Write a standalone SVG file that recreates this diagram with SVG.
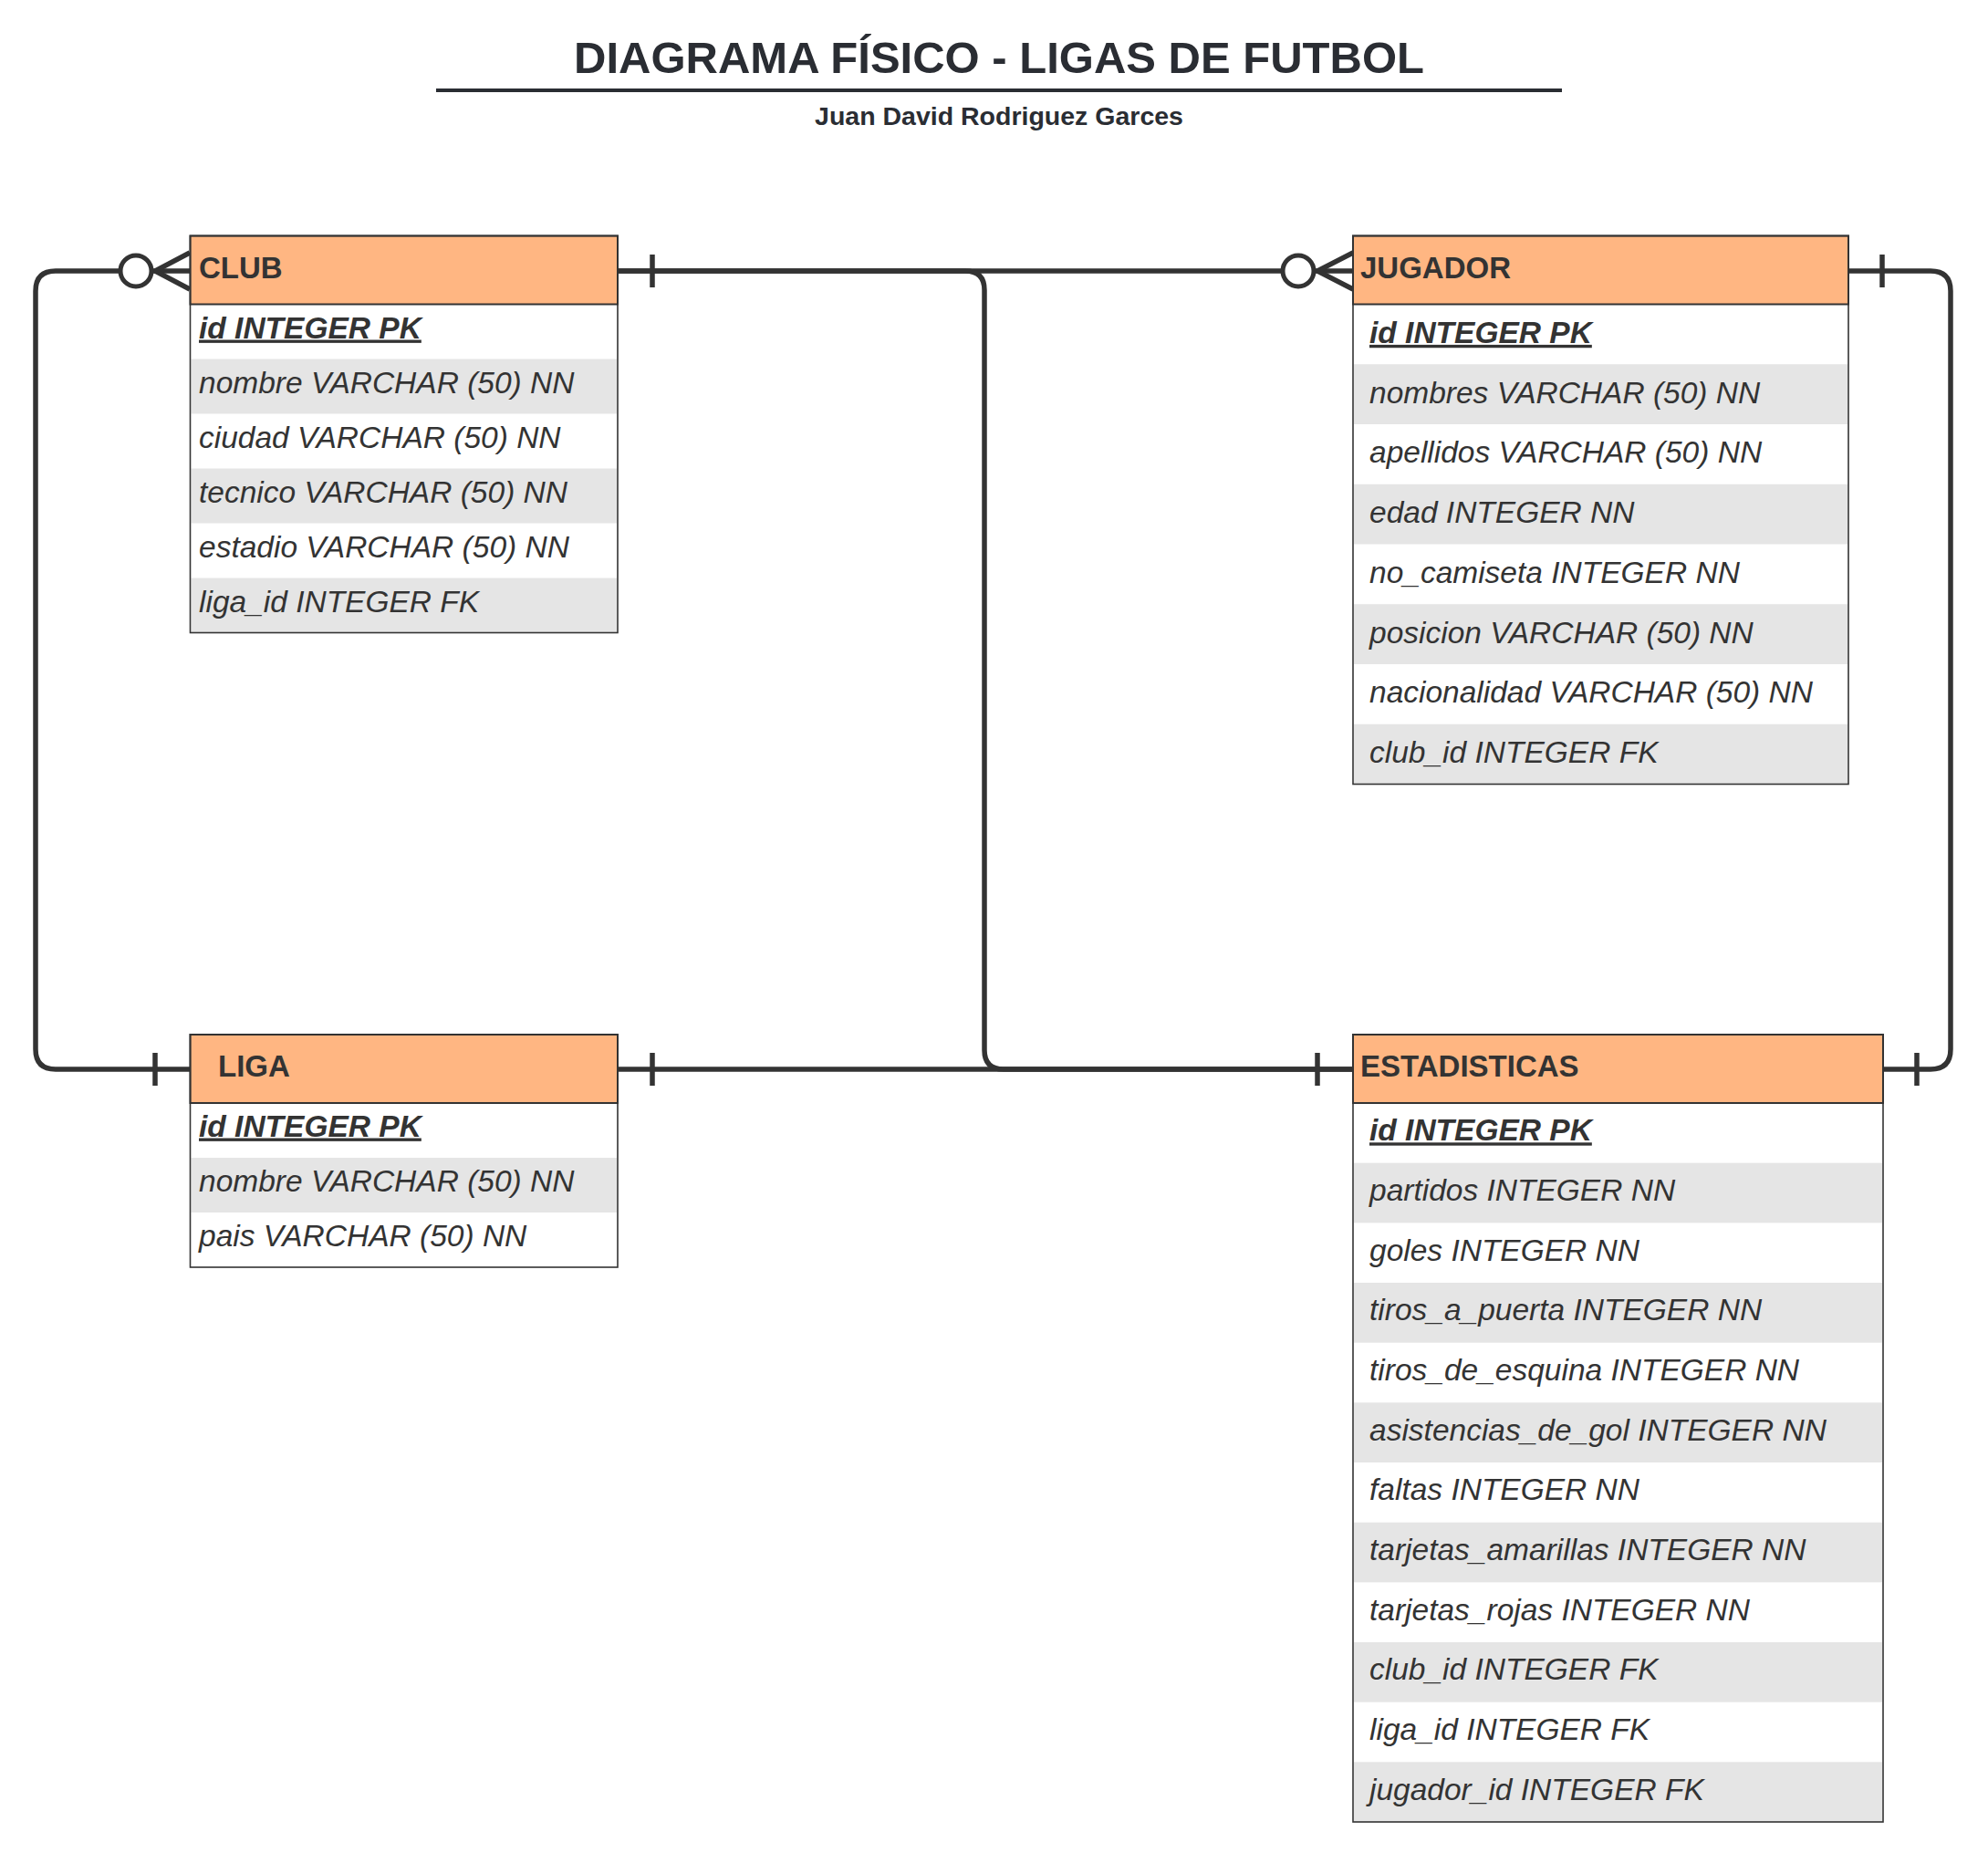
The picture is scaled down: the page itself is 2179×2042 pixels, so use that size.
<svg xmlns="http://www.w3.org/2000/svg" width="2179" height="2042" viewBox="0 0 2179 2042">
<defs>
<style>
.hdr{fill:#FFB682;stroke:#333;stroke-width:2}
.body{fill:#fff;stroke:none}
.frame{fill:none;stroke:#333;stroke-width:1.6}
.alt{fill:#E5E5E5}
.ht{font-family:"Liberation Sans",Arial,sans-serif;font-weight:bold;font-size:33px;fill:#333}
.ft{font-family:"Liberation Sans",Arial,sans-serif;font-style:italic;font-size:33.5px;fill:#333}
.pk{font-weight:bold;text-decoration:underline}
.cn{fill:none;stroke:#333;stroke-width:5.5}
.end{fill:#fff;stroke:#333;stroke-width:5}
.ttl{font-family:"Liberation Sans",Arial,sans-serif;font-weight:bold;fill:#2A2D33;text-anchor:middle}
</style>
</defs>
<rect width="2179" height="2042" fill="#fff"/>
<g id="title">
<text class="ttl" x="1095" y="80" font-size="49">DIAGRAMA FÍSICO - LIGAS DE FUTBOL</text>
<rect x="478" y="97" width="1234" height="4" fill="#2A2D33"/>
<text class="ttl" x="1095" y="137" font-size="28.5">Juan David Rodriguez Garces</text>
</g>
<g id="connectors">
<path class="cn" d="M208 297 H61 Q39 297 39 319 V1150 Q39 1172 61 1172 H208"/>
<path class="cn" d="M208 277 L170 297 L208 317"/>
<path class="cn" d="M170 1154 V1190"/>
<circle class="end" cx="149" cy="297" r="17"/>
<path class="cn" d="M677 297 H1483"/>
<path class="cn" d="M715 279 V315"/>
<path class="cn" d="M1483 277 L1444 297 L1483 317"/>
<circle class="end" cx="1423" cy="297" r="17"/>
<path class="cn" d="M677 297 H1058 Q1079 297 1079 318 V1151 Q1079 1172 1100 1172 H1483"/>
<path class="cn" d="M677 1172 H1483"/>
<path class="cn" d="M715 1154 V1190"/>
<path class="cn" d="M1444 1154 V1190"/>
<path class="cn" d="M2026 297 H2116 Q2138 297 2138 319 V1150 Q2138 1172 2116 1172 H2064"/>
<path class="cn" d="M2063 279 V315"/>
<path class="cn" d="M2101 1154 V1190"/>
</g>
<g id="club">
<rect class="body" x="208.5" y="258.5" width="468.5" height="435"/>
<rect class="alt" x="209.5" y="393.5" width="466.5" height="60"/>
<rect class="alt" x="209.5" y="513.5" width="466.5" height="60"/>
<rect class="alt" x="209.5" y="633.5" width="466.5" height="60"/>
<rect class="hdr" x="208.5" y="258.5" width="468.5" height="75"/>
<rect class="frame" x="208.5" y="258.5" width="468.5" height="435"/>
<text class="ht" x="218" y="304.5">CLUB</text>
<text class="ft pk" x="218" y="370.5">id INTEGER PK</text>
<text class="ft" x="218" y="430.5">nombre VARCHAR (50) NN</text>
<text class="ft" x="218" y="490.5">ciudad VARCHAR (50) NN</text>
<text class="ft" x="218" y="550.5">tecnico VARCHAR (50) NN</text>
<text class="ft" x="218" y="610.5">estadio VARCHAR (50) NN</text>
<text class="ft" x="218" y="670.5">liga_id INTEGER FK</text>
</g>
<g id="jugador">
<rect class="body" x="1483" y="258.5" width="543" height="601"/>
<rect class="alt" x="1484" y="399.25" width="541" height="65.75"/>
<rect class="alt" x="1484" y="530.75" width="541" height="65.75"/>
<rect class="alt" x="1484" y="662.25" width="541" height="65.75"/>
<rect class="alt" x="1484" y="793.75" width="541" height="65.75"/>
<rect class="hdr" x="1483" y="258.5" width="543" height="75"/>
<rect class="frame" x="1483" y="258.5" width="543" height="601"/>
<text class="ht" x="1491" y="304.5">JUGADOR</text>
<text class="ft pk" x="1501" y="375.9">id INTEGER PK</text>
<text class="ft" x="1501" y="441.6">nombres VARCHAR (50) NN</text>
<text class="ft" x="1501" y="507.4">apellidos VARCHAR (50) NN</text>
<text class="ft" x="1501" y="573.1">edad INTEGER NN</text>
<text class="ft" x="1501" y="638.9">no_camiseta INTEGER NN</text>
<text class="ft" x="1501" y="704.6">posicion VARCHAR (50) NN</text>
<text class="ft" x="1501" y="770.4">nacionalidad VARCHAR (50) NN</text>
<text class="ft" x="1501" y="836.1">club_id INTEGER FK</text>
</g>
<g id="liga">
<rect class="body" x="208.5" y="1134" width="468.5" height="255"/>
<rect class="alt" x="209.5" y="1269" width="466.5" height="60"/>
<rect class="hdr" x="208.5" y="1134" width="468.5" height="75"/>
<rect class="frame" x="208.5" y="1134" width="468.5" height="255"/>
<text class="ht" x="239" y="1180">LIGA</text>
<text class="ft pk" x="218" y="1245.5">id INTEGER PK</text>
<text class="ft" x="218" y="1305.5">nombre VARCHAR (50) NN</text>
<text class="ft" x="218" y="1365.5">pais VARCHAR (50) NN</text>
</g>
<g id="estadisticas">
<rect class="body" x="1483" y="1134" width="581" height="863"/>
<rect class="alt" x="1484" y="1274.67" width="579" height="65.67"/>
<rect class="alt" x="1484" y="1406" width="579" height="65.67"/>
<rect class="alt" x="1484" y="1537.33" width="579" height="65.67"/>
<rect class="alt" x="1484" y="1668.67" width="579" height="65.67"/>
<rect class="alt" x="1484" y="1800" width="579" height="65.67"/>
<rect class="alt" x="1484" y="1931.33" width="579" height="65.67"/>
<rect class="hdr" x="1483" y="1134" width="581" height="75"/>
<rect class="frame" x="1483" y="1134" width="581" height="863"/>
<text class="ht" x="1491" y="1180">ESTADISTICAS</text>
<text class="ft pk" x="1501" y="1250.3">id INTEGER PK</text>
<text class="ft" x="1501" y="1316">partidos INTEGER NN</text>
<text class="ft" x="1501" y="1381.6">goles INTEGER NN</text>
<text class="ft" x="1501" y="1447.3">tiros_a_puerta INTEGER NN</text>
<text class="ft" x="1501" y="1513">tiros_de_esquina INTEGER NN</text>
<text class="ft" x="1501" y="1578.6">asistencias_de_gol INTEGER NN</text>
<text class="ft" x="1501" y="1644.3">faltas INTEGER NN</text>
<text class="ft" x="1501" y="1710">tarjetas_amarillas INTEGER NN</text>
<text class="ft" x="1501" y="1775.6">tarjetas_rojas INTEGER NN</text>
<text class="ft" x="1501" y="1841.3">club_id INTEGER FK</text>
<text class="ft" x="1501" y="1907">liga_id INTEGER FK</text>
<text class="ft" x="1501" y="1972.6">jugador_id INTEGER FK</text>
</g>
</svg>
